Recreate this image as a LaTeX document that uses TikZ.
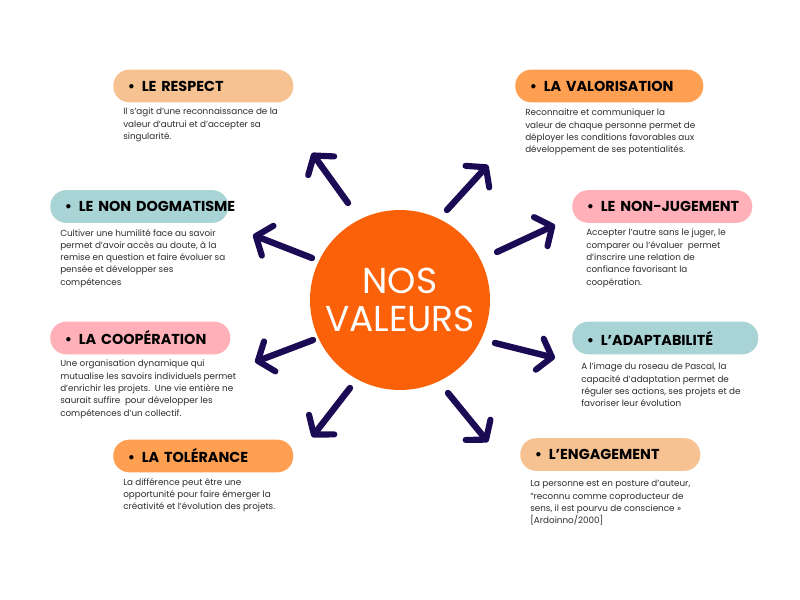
\documentclass[tikz,border=0pt]{standalone}
\usepackage{fontspec}
\setmainfont{Poppins}
\usetikzlibrary{arrows.meta}
\definecolor{peach}{RGB}{247,194,145}
\definecolor{orng}{RGB}{255,159,82}
\definecolor{tealc}{RGB}{168,212,213}
\definecolor{pinkc}{RGB}{255,176,184}
\definecolor{sun}{RGB}{251,97,9}
\definecolor{navy}{RGB}{27,11,84}
\definecolor{desc}{RGB}{45,45,45}
\tikzset{
  pill/.style={rounded corners=12pt, inner xsep=11pt, align=left, anchor=west,
    font=\bfseries\fontsize{10.8}{12}\selectfont, text=black, minimum height=24.5pt},
  desctext/.style={anchor=north west, inner sep=0pt, align=left, text=desc,
    font=\fontsize{6.6}{9.2}\selectfont},
  ray/.style={draw=navy, line width=4.8pt, line cap=round,
    -{Straight Barb[length=9.5pt,width=24pt,line width=4.6pt,round]}}
}
\newcommand{\bul}[1]{\mbox{\textbullet\hspace{5pt}#1}}
\begin{document}
\begin{tikzpicture}[x=0.75pt,y=-0.75pt]
\useasboundingbox (0,0) rectangle (800,600);
\fill[white] (0,0) rectangle (800,600);

% centre
\node[circle, fill=sun, minimum size=135pt, inner sep=0pt, text=white,
  align=center, font=\fontsize{27}{29}\selectfont] (centre) at (400,300) {NOS\\VALEURS};

% pills
\node[pill, fill=peach, text width=113pt] (p1) at (113,86) {\bul{LE RESPECT}};
\node[pill, fill=orng, text width=119pt] (p2) at (515,86) {\bul{LA VALORISATION}};
\node[pill, fill=tealc, text width=111.5pt] (p3) at (50,206.5) {\bul{LE NON DOGMATISME}};
\node[pill, fill=pinkc, text width=113pt] (p4) at (572,206.5) {\bul{LE NON-JUGEMENT}};
\node[pill, fill=pinkc, text width=113pt] (p5) at (50,338) {\bul{LA COOPÉRATION}};
\node[pill, fill=tealc, text width=117.5pt] (p6) at (572,338) {\bul{L’ADAPTABILITÉ}};
\node[pill, fill=orng, text width=113pt] (p7) at (113,456) {\bul{LA TOLÉRANCE}};
\node[pill, fill=peach, text width=113pt] (p8) at (520,454.5) {\bul{L’ENGAGEMENT}};

% descriptions
\node[desctext] (d1) at (123,108) {Il s’agit d’une reconnaissance de la\\valeur d’autrui et d’accepter sa\\singularité.};
\node[desctext] (d2) at (525,109) {Reconnaitre et communiquer la\\valeur de chaque personne permet de\\déployer les conditions favorables aux\\développement de ses potentialités.};
\node[desctext] (d3) at (60,229) {Cultiver une humilité face au savoir\\permet d’avoir accès au doute, à la\\remise en question et faire évoluer sa\\pensée et développer ses\\compétences};
\node[desctext] (d4) at (586,229) {Accepter l’autre sans le juger, le\\comparer ou l’évaluer\ \ permet\\d’inscrire une relation de\\confiance favorisant la\\coopération.};
\node[desctext] (d5) at (60,360) {Une organisation dynamique qui\\mutualise les savoirs individuels permet\\d’enrichir les projets.\ \ Une vie entière ne\\saurait suffire\ \ pour développer les\\compétences d’un collectif.};
\node[desctext] (d6) at (581,363) {A l’image du roseau de Pascal, la\\capacité d’adaptation permet de\\réguler ses actions, ses projets et de\\favoriser leur évolution};
\node[desctext] (d7) at (123,478) {La différence peut être une\\opportunité pour faire émerger la\\créativité et l’évolution des projets.};
\node[desctext] (d8) at (530,480) {La personne est en posture d’auteur,\\“reconnu comme coproducteur de\\sens, il est pourvu de conscience »\\{[}Ardoinno/2000{]}};

% arrows
\coordinate (t1) at (348,203); \coordinate (h1) at (312,153);
\coordinate (t2) at (447,210); \coordinate (h2) at (488,165);
\coordinate (t3) at (497,252); \coordinate (h3) at (555,225);
\coordinate (t4) at (312,258); \coordinate (h4) at (253,235);
\coordinate (t5) at (313,340); \coordinate (h5) at (255,362);
\coordinate (t6) at (495,343); \coordinate (h6) at (555,358);
\coordinate (t7) at (350,388); \coordinate (h7) at (312,437);
\coordinate (t8) at (448,393); \coordinate (h8) at (488,442);
\foreach \i in {1,...,8} { \draw[ray] (t\i) -- (h\i); }
\end{tikzpicture}
\end{document}
